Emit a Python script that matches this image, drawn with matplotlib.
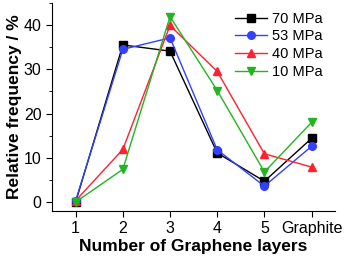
import matplotlib
matplotlib.use("Agg")
import matplotlib.pyplot as plt
from matplotlib.ticker import MultipleLocator

plt.rcParams['font.family'] = ['Liberation Sans', 'DejaVu Sans']

categories = ['1', '2', '3', '4', '5', 'Graphite']
p70 = [0.0, 35.5, 34.1, 11.1, 4.7, 14.4]
p53 = [0.3, 34.5, 37.1, 11.8, 3.6, 12.6]
p40 = [0.3, 11.9, 39.9, 29.5, 10.9, 7.9]
p10 = [0.0, 7.4, 41.9, 25.2, 6.8, 18.0]

series = [
    ('70 MPa', p70, '#000000', 's'),
    ('53 MPa', p53, '#3340ff', 'o'),
    ('40 MPa', p40, '#ff2030', '^'),
    ('10 MPa', p10, '#22b422', 'v'),
]

fig = plt.figure(figsize=(3.47, 2.62), dpi=100)
ax = fig.add_axes([0.150, 0.195, 0.816, 0.794])

x = range(1, len(categories) + 1)
for label, vals, col, mk in series:
    ax.plot(x, vals, color=col, marker=mk, markersize=5.5, lw=1.0, label=label)

ax.set_xlim(0.5, 6.5)
ax.set_ylim(-2, 45)
ax.set_xticks(list(x))
ax.set_xticklabels(categories)
ax.set_yticks([0, 10, 20, 30, 40])
ax.yaxis.set_minor_locator(MultipleLocator(5))
ax.tick_params(labelsize=11.5, length=4, direction='out')
ax.tick_params(which='minor', length=2)
for s in ['top', 'right']:
    ax.spines[s].set_visible(False)

ax.set_xlabel('Number of Graphene layers', fontsize=12.5, fontweight='bold', labelpad=2)
ax.set_ylabel('Relative frequency / %', fontsize=12.5, fontweight='bold', labelpad=1)

ax.legend(loc='upper right', bbox_to_anchor=(0.985, 1.0), frameon=False, fontsize=10.5,
          handlelength=2.2, labelspacing=0.26, handletextpad=0.3, borderaxespad=0.2)

fig.savefig('out.png', dpi=100)
